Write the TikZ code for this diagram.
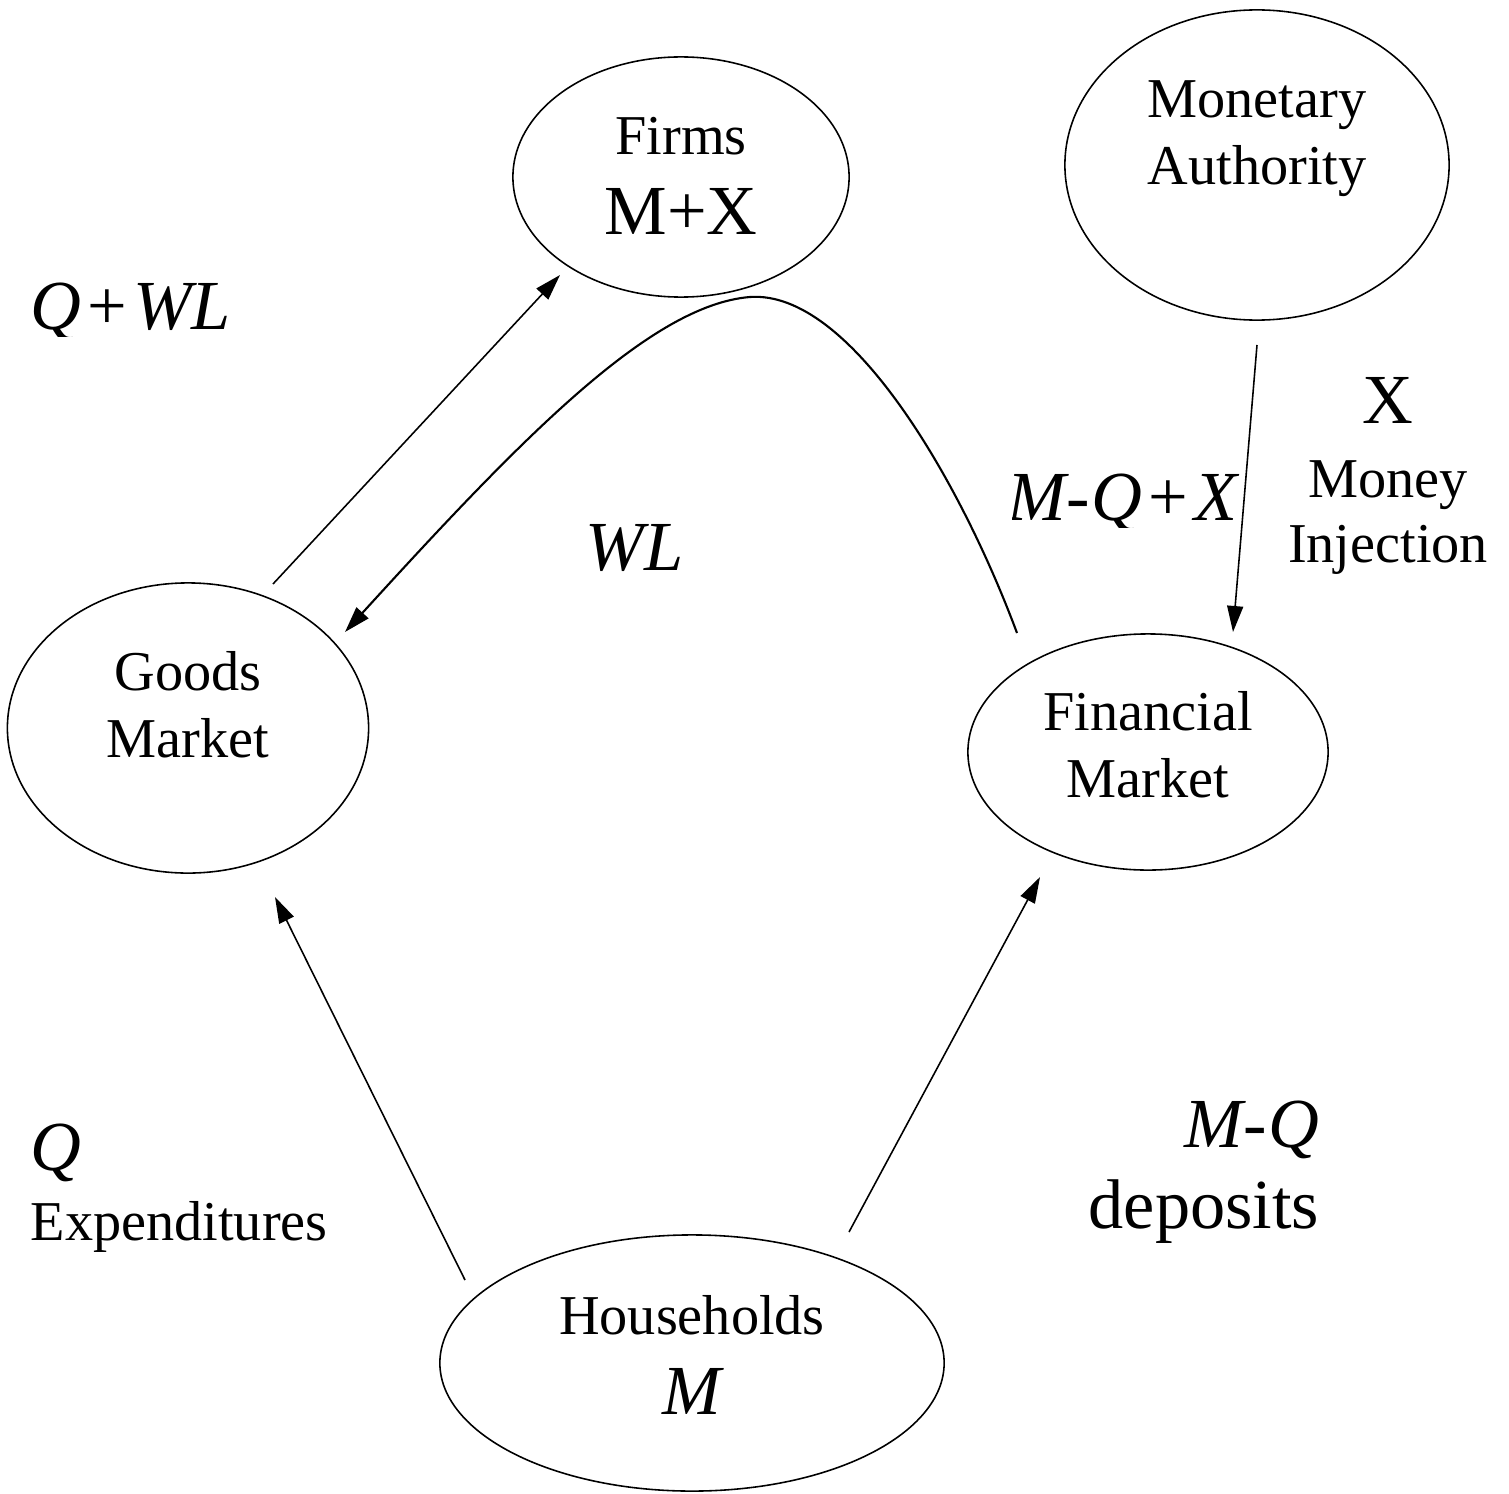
\documentclass[tikz,border=0pt]{standalone}
\usepackage{fontspec}
\setmainfont{Liberation Serif}
\usetikzlibrary{shapes.geometric,arrows.meta}
\newcommand{\pl}{\kern0.06cm\upshape+\kern0.06cm\itshape}
\newcommand{\mn}{\upshape-\kern0.02cm\itshape}
\begin{document}
\begin{tikzpicture}[x=0.01cm,y=-0.01cm,
  bubble/.style={draw,ellipse,inner sep=0pt,line width=0.45pt},
  lbl/.style={anchor=base,inner sep=0pt,font=\fontsize{16}{19}\selectfont},
  big/.style={anchor=base,inner sep=0pt,font=\fontsize{20}{23}\selectfont},
  flow/.style={line width=0.45pt,-{Triangle[length=0.26cm,width=0.16cm]}}]
\useasboundingbox (0,0) rectangle (1509,1494);
% ellipses
\node[bubble,minimum width=3.36cm,minimum height=2.40cm] (firms) at (681,177) {};
\node[bubble,minimum width=3.84cm,minimum height=3.10cm] (ma) at (1257,165) {};
\node[bubble,minimum width=3.61cm,minimum height=2.90cm] (goods) at (188,728) {};
\node[bubble,minimum width=3.60cm,minimum height=2.36cm] (fin) at (1148,752) {};
\node[bubble,minimum width=5.04cm,minimum height=2.56cm] (hh) at (692,1363) {};
% texts in ellipses
\node[lbl] (tfirms) at (681,155) {Firms};
\node[big] (tmx) at (681,235) {M+X};
\node[lbl] (tmon) at (1257,118) {Monetary};
\node[lbl] (tauth) at (1257,185) {Authority};
\node[lbl] (tgoods) at (188,690) {Goods};
\node[lbl] (tgm) at (188,757) {Market};
\node[lbl] (tfin) at (1148,730) {Financial};
\node[lbl] (tfm) at (1148,797) {Market};
\node[lbl] (thh) at (692,1334) {Households};
\node[big] (thm) at (692,1414) {\itshape M};
% free labels
\begin{scope}
\clip (0,250) rectangle (400,336);
\node[big,anchor=base west] (tqwl) at (30,330) {\itshape Q\pl WL};
\end{scope}
\node[big,anchor=base west] (twl) at (585,570) {\itshape WL};
\begin{scope}
\clip (1012,440) rectangle (1245,527);
\node[big,anchor=base east] (tmqx) at (1238,520) {\itshape M\mn Q\pl X};
\end{scope}
\node[big] (tx) at (1388,423) {X};
\node[lbl] (tmoney) at (1388,497) {Money};
\node[lbl] (tinj) at (1388,562) {Injection};
\node[big,anchor=base west] (tq) at (30,1170) {\itshape Q};
\node[lbl,anchor=base west] (texp) at (30,1240) {Expenditures};
\node[big,anchor=base east] (tmq) at (1320,1147) {\itshape M\mn Q};
\node[big,anchor=base west] (tdep) at (1088,1228) {deposits};
% connector ends
\coordinate (g1) at (273,584);
\coordinate (f1) at (560,275);
\coordinate (fm1) at (1017,633);
\coordinate (g2) at (345,632);
\coordinate (ma1) at (1257,345);
\coordinate (fm2) at (1233,632);
\coordinate (h1) at (465,1280);
\coordinate (g3) at (275,897);
\coordinate (h2) at (849,1232);
\coordinate (fm3) at (1040,877);
% connectors
\draw[flow] (g1) -- (f1);
\draw[flow,line width=0.6pt] (fm1) .. controls (960,480) and (850,290) .. (750,297)
   .. controls (650,305) and (520,440) .. (g2);
\draw[flow] (ma1) -- (fm2);
\draw[flow] (h1) -- (g3);
\draw[flow] (h2) -- (fm3);
\end{tikzpicture}
\end{document}
